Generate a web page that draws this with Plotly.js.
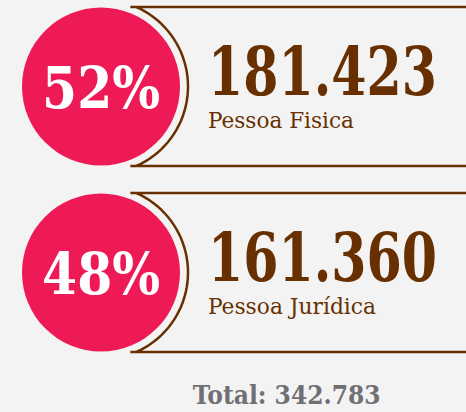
<!DOCTYPE html>
<html>
<head>
<meta charset="utf-8">
<script src="https://cdn.plot.ly/plotly-3.0.1.min.js"></script>
<style>
html,body{margin:0;padding:0;background:#f3f3f3;}
#chart{width:466px;height:412px;}
</style>
</head>
<body>
<div id="chart"></div>
<script>
// ---- data ----
const categories = ["Pessoa Fisica", "Pessoa Jurídica"];
const percentages = [52, 48];
const values = [181423, 161360];
const totalLabel = "Total";

// ---- layout config (pixel positions) ----
const rowCenters = [86.5, 272.5];
const circleX = 101;
const circleR = 79;
const arcR = 87;
const boxHalf = 79.5;
const textX = 206;
const labelWidths = [146, 168];
const pink = "#EE1A56";
const brown = "#683000";
const gray = "#6f7073";
const bg = "#f3f3f3";
const serif = "DejaVu Serif Condensed, DejaVu Serif";

function fmt(n) {
  return String(n).replace(/\B(?=(\d{3})+(?!\d))/g, ".");
}

const shapes = [];
const annotations = [];
const fitWidths = []; // desired rendered width per annotation (null = none)

rowCenters.forEach((cy, i) => {
  const top = cy - boxHalf, bot = cy + boxHalf;
  const a0 = Math.asin(boxHalf / arcR);
  let d = `M 470 ${top} L ${(circleX + arcR * Math.cos(a0) - 6).toFixed(2)} ${top}`;
  const N = 40;
  for (let k = 0; k <= N; k++) {
    const ang = -a0 + (2 * a0) * k / N;
    const x = circleX + arcR * Math.cos(ang);
    const y = cy + arcR * Math.sin(ang);
    d += ` L ${x.toFixed(2)} ${y.toFixed(2)}`;
  }
  d += ` L ${(circleX + arcR * Math.cos(a0) - 6).toFixed(2)} ${bot} L 470 ${bot}`;
  shapes.push({type: "path", xref: "x", yref: "y", path: d,
    line: {color: brown, width: 2.5}});
  shapes.push({type: "circle", xref: "x", yref: "y",
    x0: circleX - circleR, x1: circleX + circleR,
    y0: cy - circleR, y1: cy + circleR,
    fillcolor: pink, line: {width: 0}});

  annotations.push({x: circleX, y: cy + 1, xref: "x", yref: "y",
    text: percentages[i] + "%", showarrow: false,
    xanchor: "center", yanchor: "middle",
    font: {family: serif, size: 58, color: "#ffffff", weight: "bold"}});
  fitWidths.push(118);
  annotations.push({x: textX, y: cy - 15, xref: "x", yref: "y",
    text: fmt(values[i]), showarrow: false,
    xanchor: "left", yanchor: "middle",
    font: {family: serif, size: 67, color: brown, weight: "bold"}});
  fitWidths.push(229);
  annotations.push({x: textX, y: cy + 33, xref: "x", yref: "y",
    text: categories[i], showarrow: false,
    xanchor: "left", yanchor: "middle",
    font: {family: serif, size: 23, color: brown}});
  fitWidths.push(labelWidths[i]);
});

const total = values.reduce((a, b) => a + b, 0);
annotations.push({x: 286, y: 395, xref: "x", yref: "y",
  text: totalLabel + ": " + fmt(total), showarrow: false,
  xanchor: "center", yanchor: "middle",
  font: {family: serif, size: 26, color: gray, weight: "bold"}});
fitWidths.push(188);

const layout = {
  width: 466, height: 412,
  margin: {l: 0, r: 0, t: 0, b: 0},
  paper_bgcolor: bg, plot_bgcolor: bg,
  xaxis: {range: [0, 466], visible: false, fixedrange: true},
  yaxis: {range: [412, 0], visible: false, fixedrange: true},
  shapes: shapes,
  annotations: annotations,
  showlegend: false
};

Plotly.newPlot("chart", [{x: [], y: [], type: "scatter"}], layout, {staticPlot: true}).then(gd => {
  const groups = gd.querySelectorAll(".annotation");
  groups.forEach((g, i) => {
    const w = fitWidths[i];
    if (!w) return;
    const t = g.querySelector("text");
    if (!t) return;
    const bb = t.getBBox();
    const s = w / bb.width;
    const anchorX = annotations[i].xanchor === "left" ? bb.x : bb.x + bb.width / 2;
    t.setAttribute("transform", `translate(${anchorX * (1 - s)},0) scale(${s},1)`);
  });
});
</script>
</body>
</html>
